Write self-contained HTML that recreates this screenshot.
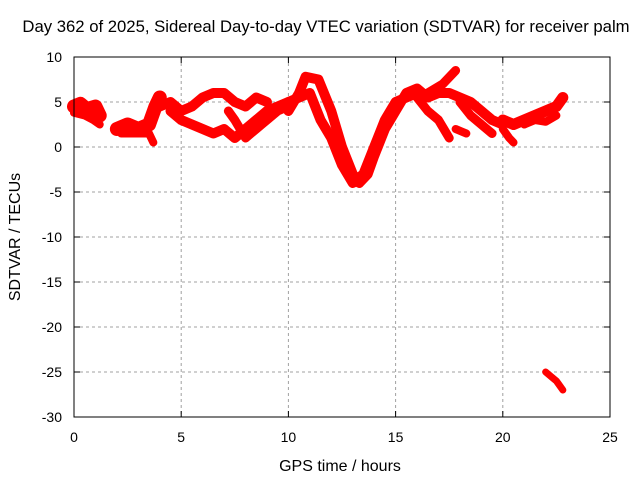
<!DOCTYPE html>
<html><head><meta charset="utf-8"><style>
body{margin:0;background:#fff}
svg{display:block;font-family:"Liberation Sans",sans-serif}
</style></head><body>
<svg id="c" width="640" height="480" xmlns="http://www.w3.org/2000/svg">
<rect width="640" height="480" fill="#fff"/>
<text x="326" y="32" font-size="16.7" text-anchor="middle">Day 362 of 2025, Sidereal Day-to-day VTEC variation (SDTVAR) for receiver palm</text>
<text x="340" y="471" font-size="16" text-anchor="middle">GPS time / hours</text>
<text transform="translate(20,237) rotate(-90)" font-size="16" text-anchor="middle">SDTVAR / TECUs</text>
<g id="grid"></g><g id="ticks"></g><g id="marks"></g>
<rect x="74" y="57" width="536" height="360" fill="none" stroke="#000" stroke-width="1"/>
</svg>
<script>
const xTicks=[0,5,10,15,20,25];
const yTicks=[10,5,0,-5,-10,-15,-20,-25,-30];
const track1=[[0,4.5],[0.3,4.8],[0.6,4.2],[1,4.5],[1.2,3.5]];
const track1b=[[0,3.8],[0.5,3.5],[0.9,3],[1.2,2.5]];
const track2=[[2,2],[2.5,2.5],[3,2],[3.5,2.5],[3.8,4.5],[4,5.5]];
const track2b=[[2.2,1.5],[3,1.5],[3.5,1.5],[3.7,0.5]];
const track3=[[4,4.5],[4.5,5],[5,4],[5.5,4.5],[6,5.5],[6.5,6],[7,6],[7.5,5],[8,4.5],[8.5,5.5],[9,5]];
const track4=[[4.5,4],[5,3],[5.5,2.5],[6,2],[6.5,1.5],[7,2],[7.5,1],[8,2],[8.5,3],[9,4],[9.5,4.5],[10,5]];
const track5=[[7.2,4],[7.5,3],[8,1],[8.5,2],[9,3],[9.5,4],[10,4.5]];
const track6=[[10,4],[10.5,6],[10.8,7.8],[11.4,7.5],[12,4],[12.5,0],[13,-3],[13.3,-4],[13.7,-3],[14,-1],[14.5,2],[15,4],[15.5,6],[16,6.5],[16.5,5.5],[17,6],[17.5,6],[18,5.5],[18.5,5],[19,4],[19.5,3],[20,2.5]];
const track7=[[10,5],[11,6],[11.5,3],[12,1],[12.5,-2],[13,-4],[13.5,-3],[14,0],[14.5,3],[15,5],[16,6]];
const track8=[[16,5.5],[16.5,4],[17,3],[17.5,1]];
const track8b=[[16.5,6],[17.2,7],[17.8,8.5]];
const track9=[[18,5],[18.5,3.5],[19,2.5],[19.5,1.5]];
const track9b=[[17.8,2],[18.3,1.5]];
const track10=[[20,3],[20.5,2.5],[21,3],[21.5,3.5],[22,4],[22.5,4.5],[22.8,5.5]];
const track10b=[[21,2.5],[21.5,3],[22,2.8],[22.5,3.5]];
const track11=[[20,2],[20.3,1],[20.5,0.5]];
const track12=[[22,-25],[22.5,-26],[22.8,-27]];
const tracks=[track1,track1b,track2,track2b,track3,track4,track5,track6,track7,track8,track8b,track9,track9b,track10,track10b,track11,track12];
const widths=[14,8,14,8,10,10,9,10,10,9,9,9,8,11,8,8,7];
const NS="http://www.w3.org/2000/svg";
const X=h=>74+h*536/25, Y=v=>57+(10-v)*9;
const grid=document.getElementById('grid'),ticks=document.getElementById('ticks'),marks=document.getElementById('marks');
function mk(t,a,p){const e=document.createElementNS(NS,t);for(const k in a)e.setAttribute(k,a[k]);p.appendChild(e);return e;}
xTicks.forEach(t=>{
 if(t>0&&t<25){const g=mk('line',{x1:X(t),x2:X(t),y1:57,y2:417,stroke:'#a0a0a0','stroke-dasharray':'3,3'},grid);
 
 }
 const l=mk('text',{x:X(t),y:442,'font-size':14,'text-anchor':'middle'},ticks);l.textContent=t;
 
 
 mk('line',{x1:X(t),x2:X(t),y1:417,y2:411,stroke:'#000'},ticks);
 mk('line',{x1:X(t),x2:X(t),y1:57,y2:63,stroke:'#000'},ticks);
});
yTicks.forEach(t=>{
 if(t<10&&t>-30){const g=mk('line',{x1:74,x2:610,y1:Y(t),y2:Y(t),stroke:'#a0a0a0','stroke-dasharray':'3,3'},grid);
 
 }
 const l=mk('text',{x:62,y:Y(t)+5,'font-size':14,'text-anchor':'end'},ticks);l.textContent=t;
 
 
 mk('line',{x1:74,x2:80,y1:Y(t),y2:Y(t),stroke:'#000'},ticks);
 mk('line',{x1:604,x2:610,y1:Y(t),y2:Y(t),stroke:'#000'},ticks);
});
tracks.forEach((tr,i)=>{
 const p=mk('polyline',{points:tr.map(d=>X(d[0])+','+Y(d[1])).join(' '),fill:'none',stroke:'#ff0000','stroke-width':widths[i],'stroke-linejoin':'round','stroke-linecap':'round'},marks);
 
 
});
</script>
</body></html>
